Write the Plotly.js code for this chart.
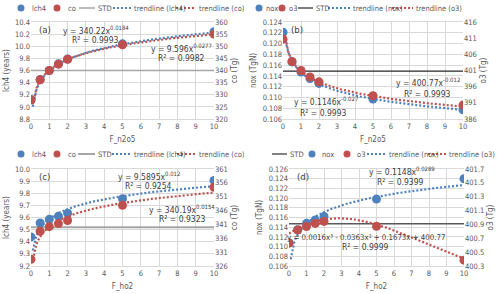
<!DOCTYPE html>
<html><head>
<script src="https://cdn.plot.ly/plotly-3.0.1.min.js"></script>
<style>body{margin:0;background:#fff}</style>
</head><body>
<div id="chart" style="width:500px;height:294px"></div>
<script>
// ---- data ----
const xVals = [0, 0.5, 1, 1.5, 2, 5, 10];
const lch4A = [9.12, 9.45, 9.60, 9.71, 9.79, 10.04, 10.24];
const coA   = [327.8, 336.2, 340.0, 342.6, 344.6, 350.6, 355.0];
const noxB  = [0.1221, 0.1166, 0.1147, 0.1135, 0.1126, 0.1097, 0.1077];
const o3B   = [410.7, 403.8, 401.0, 399.0, 397.5, 393.2, 390.3];
const lch4C = [9.44, 9.555, 9.585, 9.61, 9.635, 9.755, 9.905];
const coC   = [328.4, 338.5, 340.2, 341.3, 342.4, 347.9, 354.4];
const noxD  = [0.1108, 0.1135, 0.1148, 0.1155, 0.1162, 0.1198, 0.1240];
const o3D   = [400.63, 400.82, 400.87, 400.915, 400.944, 400.874, 400.384];
const stdA = 9.6, stdB = 0.1149, stdC = 9.52, stdD = 0.1147;
const stdX = [0, 10];
// trendline coefficients as printed on the chart
const fitA_lch4 = [9.596, 0.0277], fitA_co = [340.22, 0.0184];
const fitB_nox = [0.1146, -0.027], fitB_o3 = [400.77, -0.012];
const fitC_lch4 = [9.5895, 0.012], fitC_co = [340.19, 0.0154];
const fitD_nox = [0.1148, 0.0289];
const fitD_o3 = [0.0016, -0.0363, 0.1673, 400.77];

const BLUE = '#4F81BD', RED = '#C0504D', TXT = '#595959', GRID = '#D9D9D9';
const FONT = 'Liberation Sans Narrow, DejaVu Sans Condensed, Liberation Sans, sans-serif';

// sample positions for drawing fitted curves
const curveX = [], curveX0 = [];
for (let i = 0; i <= 99; i++) { curveX.push(0.1 + i * 0.1); }
for (let i = 0; i <= 100; i++) { curveX0.push(i * 0.1); }
const pow = (c) => curveX.map(x => c[0] * Math.pow(x, c[1]));
const poly3 = (c) => curveX0.map(x => c[0]*x*x*x + c[1]*x*x + c[2]*x + c[3]);

function pts(x, y, col, xa, ya) {
  return {x: x, y: y, xaxis: xa, yaxis: ya, mode: 'markers', type: 'scatter',
    marker: {color: col, size: 9}, showlegend: false, hoverinfo: 'skip'};
}
function line(x, y, col, xa, ya, dash, w) {
  return {x: x, y: y, xaxis: xa, yaxis: ya, mode: 'lines', type: 'scatter',
    line: {color: col, width: w, dash: dash}, showlegend: false, hoverinfo: 'skip'};
}
const trend = (x, y, col, xa, ya) => line(x, y, col, xa, ya, '2px,2px', 2.2);

const traces = [
  // (a)
  line(stdX, [stdA, stdA], '#A6A6A6', 'x', 'y', 'solid', 1.5),
  trend(curveX, pow(fitA_lch4), BLUE, 'x', 'y'),
  trend(curveX, pow(fitA_co), RED, 'x', 'y2'),
  pts(xVals, lch4A, BLUE, 'x', 'y'),
  pts(xVals, coA, RED, 'x', 'y2'),
  // (b)
  line(stdX, [stdB, stdB], '#262626', 'x2', 'y3', 'solid', 1.2),
  trend(curveX, pow(fitB_nox), BLUE, 'x2', 'y3'),
  trend(curveX, pow(fitB_o3), RED, 'x2', 'y4'),
  pts(xVals, noxB, BLUE, 'x2', 'y3'),
  pts(xVals, o3B, RED, 'x2', 'y4'),
  // (c)
  line(stdX, [stdC, stdC], '#A6A6A6', 'x3', 'y5', 'solid', 2),
  trend(curveX, pow(fitC_lch4), BLUE, 'x3', 'y5'),
  trend(curveX, pow(fitC_co), RED, 'x3', 'y6'),
  pts(xVals, lch4C, BLUE, 'x3', 'y5'),
  pts(xVals, coC, RED, 'x3', 'y6'),
  // (d)
  line(stdX, [stdD, stdD], '#595959', 'x4', 'y7', 'solid', 1.5),
  trend(curveX, pow(fitD_nox), BLUE, 'x4', 'y7'),
  trend(curveX0, poly3(fitD_o3), RED, 'x4', 'y8'),
  pts(xVals, noxD, BLUE, 'x4', 'y7'),
  pts(xVals, o3D, RED, 'x4', 'y8'),
];

const W = 500, H = 294;
const px = v => v / W, py = v => 1 - v / H;
const tf = {family: FONT, size: 7.5, color: TXT};
const ttf = {family: FONT, size: 8, color: TXT};

function xax(d0, d1, anchor, title) {
  return {domain: [px(d0), px(d1)], anchor: anchor, range: [0, 10], dtick: 1, tick0: 0,
    showgrid: true, gridcolor: GRID, gridwidth: 1, zeroline: false, showline: true,
    linecolor: GRID, mirror: true, ticks: '', tickfont: tf, ticklen: 0,
    title: {text: title, font: ttf, standoff: 6}, fixedrange: true};
}
function yl(y0, y1, anchor, range, dtick, fmt, title) {
  return {domain: [py(y1), py(y0)], anchor: anchor, range: range, dtick: dtick, tick0: range[0],
    showgrid: true, gridcolor: GRID, zeroline: false, ticks: '', tickfont: tf, tickformat: fmt,
    title: {text: title, font: ttf, standoff: 4}, fixedrange: true};
}
function yr(anchor, over, range, dtick, fmt, title) {
  return {anchor: anchor, overlaying: over, side: 'right', range: range, dtick: dtick, tick0: range[0],
    showgrid: false, zeroline: false, ticks: '', tickfont: tf, tickformat: fmt,
    title: {text: title, font: ttf, standoff: 4}, fixedrange: true};
}

const layout = {
  width: W, height: H, margin: {l: 0, r: 0, t: 0, b: 0},
  paper_bgcolor: '#fff', plot_bgcolor: '#fff', showlegend: false,
  font: {family: FONT, color: TXT},
  xaxis: xax(31, 214, 'y', 'F_n2o5'),
  yaxis: yl(22, 119, 'x', [8.8, 10.4], 0.2, '.1f', 'lch4 (years)'),
  yaxis2: yr('x', 'y', [320, 360], 5, 'd', 'co (Tg)'),
  xaxis2: xax(283, 463, 'y3', 'F_n2o5'),
  yaxis3: yl(22, 119, 'x2', [0.106, 0.124], 0.002, '.3f', 'nox (TgN)'),
  yaxis4: yr('x2', 'y3', [386, 416], 5, 'd', 'o3 (Tg)'),
  xaxis3: xax(31, 214, 'y5', 'F_ho2'),
  yaxis5: yl(169, 266, 'x3', [9.2, 10.0], 0.1, '.1f', 'lch4 (years)'),
  yaxis6: yr('x3', 'y5', [326, 361], 5, 'd', 'co (Tg)'),
  xaxis4: xax(289, 464, 'y7', 'F_ho2'),
  yaxis7: yl(169, 266, 'x4', [0.106, 0.126], 0.002, '.3f', 'nox (TgN)'),
  yaxis8: yr('x4', 'y7', [400.3, 401.7], 0.2, '.1f', 'o3 (Tg)'),
  annotations: [], shapes: []
};

function txt(x, y, t, size, anchor) {
  layout.annotations.push({xref: 'paper', yref: 'paper', x: px(x), y: py(y), text: t,
    showarrow: false, xanchor: anchor || 'center', yanchor: 'middle',
    font: {family: FONT, size: size, color: '#404040'}});
}
function legDot(x, y, col, label, tx) {
  layout.shapes.push({type: 'circle', xref: 'paper', yref: 'paper', xsizemode: 'pixel', ysizemode: 'pixel',
    xanchor: px(x), yanchor: py(y), x0: -3.5, x1: 3.5, y0: -3.5, y1: 3.5,
    fillcolor: col, line: {width: 0}});
  layout.annotations.push({xref: 'paper', yref: 'paper', x: px(tx), y: py(y), text: label, showarrow: false,
    xanchor: 'left', yanchor: 'middle', font: {family: FONT, size: 7.5, color: TXT}});
}
function legLine(x0, x1, y, col, dash, w, label, tx) {
  layout.shapes.push({type: 'line', xref: 'paper', yref: 'paper', x0: px(x0), x1: px(x1), y0: py(y), y1: py(y),
    line: {color: col, width: w, dash: dash}});
  layout.annotations.push({xref: 'paper', yref: 'paper', x: px(tx), y: py(y), text: label, showarrow: false,
    xanchor: 'left', yanchor: 'middle', font: {family: FONT, size: 7.5, color: TXT}});
}

// legend (a)
legDot(21, 8, BLUE, 'lch4', 30);
legDot(57, 8, RED, 'co', 66);
legLine(79, 95, 8, '#A6A6A6', 'solid', 1.5, 'STD', 96);
legLine(113, 131, 8, BLUE, '2px,2px', 2, 'trendline (lch4)', 132);
legLine(176, 195, 8, RED, '2px,2px', 2, 'trendline (co)', 197);
// legend (b)
legDot(259, 8, BLUE, 'nox', 264);
legDot(282, 8, RED, 'o3', 287);
legLine(298, 313, 8, '#262626', 'solid', 1.2, 'STD', 314);
legLine(328, 350, 8, BLUE, '2px,2px', 2, 'trendline (nox)', 351);
legLine(392, 413, 8, RED, '2px,2px', 2, 'trendline (o3)', 414);
// legend (c)
legDot(21, 154, BLUE, 'lch4', 30);
legDot(57, 154, RED, 'co', 66);
legLine(78, 95, 154, '#A6A6A6', 'solid', 2, 'STD', 96);
legLine(112, 131, 154, BLUE, '2px,2px', 2, 'trendline (lch4)', 132);
legLine(177, 196, 154, RED, '2px,2px', 2, 'trendline (co)', 197);
// legend (d)
legLine(272, 287, 154, '#595959', 'solid', 1.5, 'STD', 288);
legDot(312, 154, BLUE, 'nox', 320);
legDot(347, 154, RED, 'o3', 355);
legLine(367, 386, 154, BLUE, '2px,2px', 2, 'trendline (nox)', 387);
legLine(428, 446, 154, RED, '2px,2px', 2, 'trendline (o3)', 447);

// panel labels
txt(37, 29, '(a)', 9.5, 'left');
txt(289, 29, '(b)', 9.5, 'left');
txt(37, 176, '(c)', 9.5, 'left');
txt(295, 176, '(d)', 9.5, 'left');
// fit labels (centred where the reference centres them)
const FS = 8.5;
txt(95.5, 30.5, 'y = 340.22x<sup>0.0184</sup>', FS);
txt(95, 40.5, 'R² = 0.9993', FS);
txt(181, 47.5, 'y = 9.596x<sup>0.0277</sup>', FS);
txt(181, 58, 'R² = 0.9982', FS);
txt(427.5, 82, 'y = 400.77x<sup>-0.012</sup>', FS);
txt(427, 94, 'R² = 0.9993', FS);
txt(325.5, 101, 'y = 0.1146x<sup>-0.027</sup>', FS);
txt(323, 113, 'R² = 0.9993', FS);
txt(148.5, 175.5, 'y = 9.5895x<sup>0.012</sup>', FS);
txt(148, 186, 'R² = 0.9254', FS);
txt(182, 208.5, 'y = 340.19x<sup>0.0154</sup>', FS);
txt(182, 219, 'R² = 0.9323', FS);
txt(401.5, 171, 'y = 0.1148x<sup>0.0289</sup>', FS);
txt(400, 181.5, 'R² = 0.9399', FS);
txt(365.5, 237, 'y = 0.0016x³ - 0.0363x² + 0.1673x + 400.77', 7.8);
txt(365, 247, 'R² = 0.9999', FS);

Plotly.newPlot('chart', traces, layout, {displayModeBar: false, staticPlot: true});
</script>
</body></html>
